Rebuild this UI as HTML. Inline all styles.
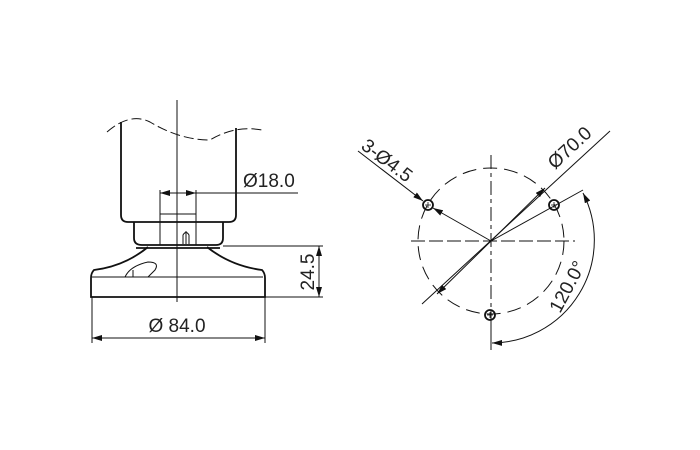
<!DOCTYPE html><html><head><style>body{margin:0;background:#fff}svg{display:block}text{font-family:"Liberation Sans",sans-serif;fill:#222}</style></head><body>
<svg width="700" height="450" viewBox="0 0 700 450">
<defs><marker id="a" viewBox="0 0 10 6" refX="10" refY="3" markerWidth="10" markerHeight="6" orient="auto-start-reverse" markerUnits="userSpaceOnUse"><path d="M0,0L10,3L0,6z" fill="#111"/></marker></defs>
<g fill="none" stroke="#111" stroke-width="1">
<line x1="177" y1="100" x2="177" y2="302"/>
<path d="M107,132 Q130,112 150,122 Q180,140 210,140 Q235,125 262,130" stroke-dasharray="10,4"/>
<g stroke-width="1.8">
<path d="M121,122 V215 Q121,222 128,222 H229 Q236,222 236,215 V128"/>
<path d="M134,222 V238 Q134,245 142,245 H216 Q223,245 223,238 V222"/>
<path d="M148,247 Q125,266 94,270 Q91,273 91,278 V297 H265 V278 Q265,273 262,270 Q231,266 207,247"/>
<path d="M136,248 H220"/>
</g>
<path d="M92,277 H263"/>
<path d="M125,277 Q130,266 148,262 Q160,262 155,270 Q150,275 148,277"/>
<line x1="133" y1="270" x2="133" y2="277"/>
<path d="M183,244 V235 Q186,230 189,235 V244 M186,231 V244"/>
<line x1="160" y1="190" x2="160" y2="245"/><line x1="196" y1="190" x2="196" y2="245"/>
<line x1="160" y1="214" x2="196" y2="214"/>
<line x1="160" y1="193" x2="196" y2="193" marker-start="url(#a)" marker-end="url(#a)"/>
<line x1="196" y1="193" x2="298" y2="193"/>
<line x1="223" y1="246" x2="323" y2="246"/><line x1="265" y1="297" x2="323" y2="297"/>
<line x1="319" y1="246" x2="319" y2="297" marker-start="url(#a)" marker-end="url(#a)"/>
<line x1="92" y1="297" x2="92" y2="343"/><line x1="265" y1="297" x2="265" y2="343"/>
<line x1="92" y1="338" x2="265" y2="338" marker-start="url(#a)" marker-end="url(#a)"/>
<line x1="491" y1="155" x2="491" y2="345" stroke-dasharray="14,4,4,4"/>
<line x1="411" y1="241" x2="575" y2="241" stroke-dasharray="14,4"/>
<circle cx="491" cy="241" r="73" stroke-dasharray="14,7"/>
<g stroke-width="1.8"><circle cx="428" cy="205" r="5"/><circle cx="554" cy="205" r="5"/><circle cx="490" cy="315" r="5"/></g>
<path d="M425,205h6M428,202v6M551,205h6M554,202v6M487,315h6M490,312v6" stroke-width="0.8"/>
<line x1="358" y1="151" x2="423" y2="201" marker-end="url(#a)"/>
<line x1="491" y1="241" x2="433" y2="208" marker-end="url(#a)"/>
<line x1="422" y1="304" x2="610" y2="131"/>
<line x1="491" y1="241" x2="545" y2="188" marker-end="url(#a)"/>
<line x1="491" y1="241" x2="437" y2="294" marker-end="url(#a)"/>
<line x1="491" y1="241" x2="583" y2="190"/>
<line x1="491" y1="320" x2="491" y2="350"/>
<path d="M583,193 A103,103 0 0 1 492,343" marker-start="url(#a)" marker-end="url(#a)"/>
</g>
<text x="243" y="187" font-size="19">Ø18.0</text>
<text x="177" y="332" font-size="19" text-anchor="middle">Ø 84.0</text>
<text transform="translate(314,272) rotate(-90)" font-size="19" text-anchor="middle">24.5</text>
<text transform="translate(360,148) rotate(37)" font-size="19">3-Ø4.5</text>
<text transform="translate(555,170) rotate(-43)" font-size="19">Ø70.0</text>
<text transform="translate(560,314) rotate(-62)" font-size="19">120.0°</text>
</svg></body></html>
